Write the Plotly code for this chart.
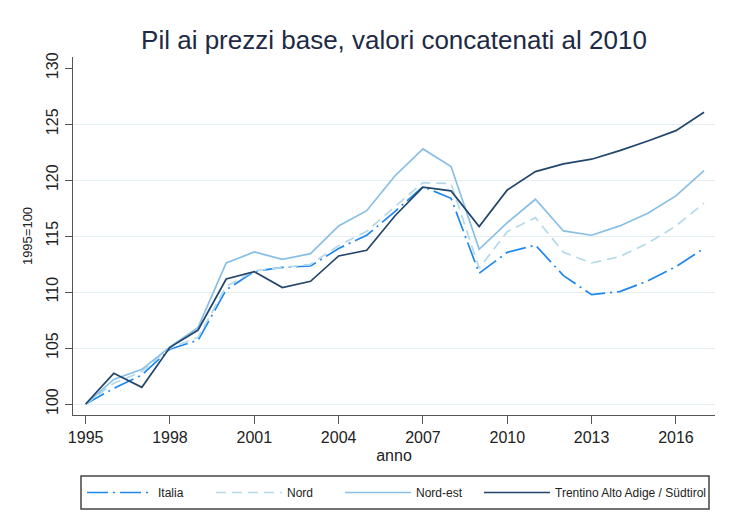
import plotly.graph_objects as go

years = list(range(1995, 2018))

italia = [100, 101.4, 102.6, 104.9, 105.7, 110.2, 111.85, 112.2, 112.33, 113.9, 115.08,
          117.19, 119.42, 118.38, 111.68, 113.55, 114.2, 111.47, 109.77, 110.04, 111.0,
          112.27, 113.91]
nord = [100, 101.85, 102.9, 105.0, 105.96, 110.5, 111.9, 112.18, 112.48, 114.15, 115.43,
        117.63, 119.78, 119.7, 112.13, 115.4, 116.65, 113.55, 112.6, 113.17, 114.36,
        115.91, 117.94]
nord_est = [100, 102.2, 103.1, 105.1, 106.85, 112.6, 113.58, 112.93, 113.43, 115.91, 117.27,
            120.37, 122.79, 121.21, 113.82, 116.2, 118.29, 115.46, 115.08, 115.91, 117.04,
            118.59, 120.85]
trentino = [100, 102.74, 101.49, 105.07, 106.61, 111.17, 111.83, 110.4, 110.96, 113.23,
            113.73, 116.8, 119.37, 119.04, 115.85, 119.12, 120.76, 121.45, 121.87, 122.64,
            123.5, 124.42, 126.07]

series_names = ["Italia", "Nord", "Nord-est", "Trentino Alto Adige / Südtirol"]
x_ticks = [1995, 1998, 2001, 2004, 2007, 2010, 2013, 2016]
y_ticks = [100, 105, 110, 115, 120, 125, 130]
y_grid = [100, 105, 110, 115, 120, 125]

FONT = "Liberation Sans, Arial, sans-serif"

fig = go.Figure()
styles = [
    (italia, "#1e88f0", "21px,5px,2px,5px", "legend"),
    (nord, "#b3d9ea", "10px,6px", "legend"),
    (nord_est, "#88bfe6", "solid", "legend"),
    (trentino, "#22466b", "solid", "legend2"),
]
for name, (vals, col, dash, leg) in zip(series_names, styles):
    fig.add_trace(go.Scatter(x=years, y=vals, mode="lines", name=name, legend=leg,
                             line=dict(color=col, width=1.7, dash=dash)))

# legend frame
fig.add_shape(type="rect", xref="paper", yref="paper",
              x0=(81 - 73) / 642, x1=(709 - 73) / 642,
              y0=(415 - 509) / 358, y1=(415 - 476) / 358,
              line=dict(color="#444444", width=1.5), fillcolor="rgba(0,0,0,0)", layer="above")

leg_common = dict(orientation="h", xanchor="left",
                  y=(415 - 492.5) / 358, yanchor="middle",
                  borderwidth=0, bgcolor="rgba(0,0,0,0)",
                  font=dict(size=12, color="#222222"), itemwidth=66,
                  traceorder="normal")

fig.update_layout(
    width=729, height=532,
    margin=dict(l=73, r=14, t=57, b=117),
    paper_bgcolor="white", plot_bgcolor="white",
    font=dict(family=FONT, color="#222222"),
    title=dict(text="Pil ai prezzi base, valori concatenati al 2010",
               x=0.5, xref="paper", xanchor="center",
               y=1 - 40 / 532, yanchor="middle",
               font=dict(size=26, color="#1e2a45", family=FONT)),
    xaxis=dict(range=[1994.55, 2017.39], tickvals=x_ticks, automargin=False,
               ticks="outside", ticklen=8, tickcolor="#555555",
               showline=True, linecolor="#555555", linewidth=1.3,
               showgrid=False, zeroline=False,
               tickfont=dict(size=16, color="#222222"),
               title=dict(text="anno", font=dict(size=16, color="#222222"), standoff=4)),
    yaxis=dict(range=[99.02, 131.0], tickvals=y_ticks, automargin=False,
               ticks="outside", ticklen=7, tickcolor="#555555", tickangle=-90,
               showline=True, linecolor="#555555", linewidth=1.3,
               showgrid=False, zeroline=False,
               minor=dict(tickmode="array", tickvals=y_grid, showgrid=True,
                          gridcolor="#e5eef3", gridwidth=1, ticks=""),
               tickfont=dict(size=16, color="#222222"),
               title=dict(text="1995=100", font=dict(size=13, color="#222222"), standoff=8)),
    legend=dict(x=(82 - 73) / 642, entrywidth=48, entrywidthmode="pixels", **leg_common),
    legend2=dict(x=(479 - 73) / 642, **leg_common),
    showlegend=True,
)

fig.write_html("out.html", config={"displayModeBar": False},
               post_script="document.body.style.margin='0';document.body.style.padding='0';")
